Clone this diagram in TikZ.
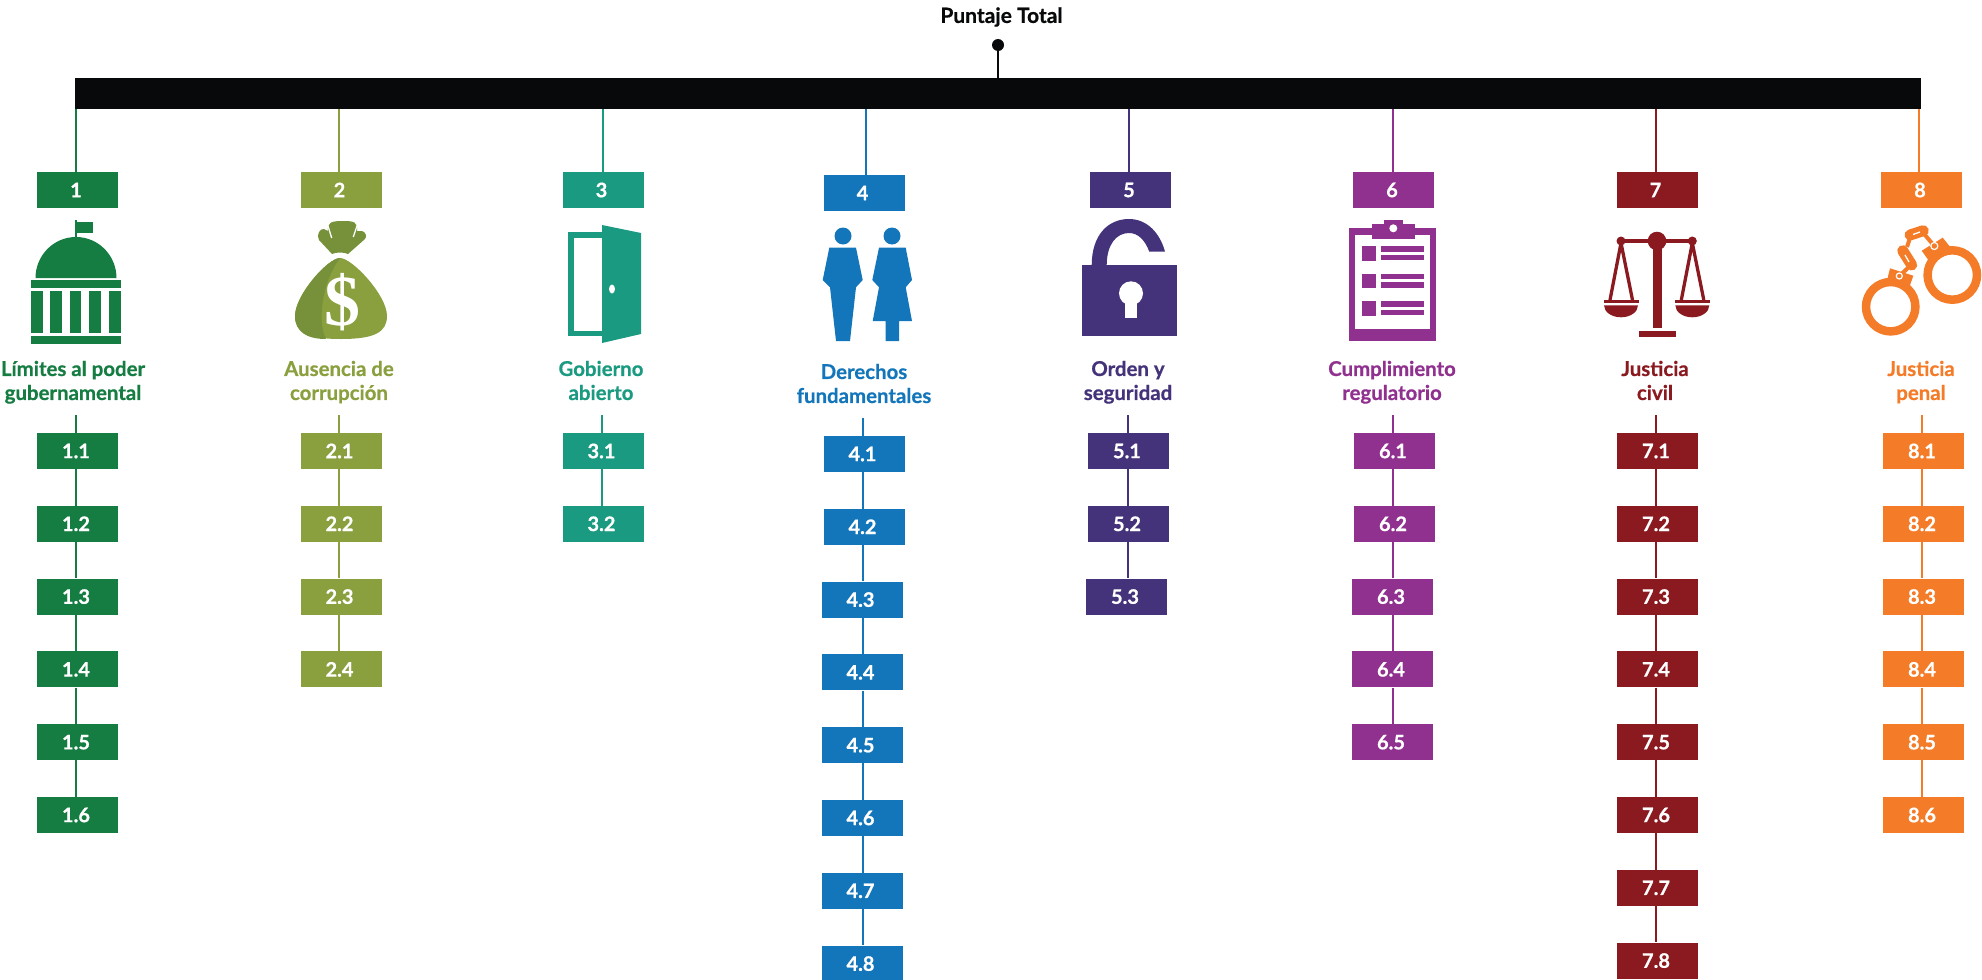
\documentclass[tikz,border=0pt]{standalone}
\usepackage{fontspec}
\setmainfont{Lato}[BoldFeatures={FakeBold=0.6}]
\newfontfamily\dollarfont{Liberation Serif}
\usetikzlibrary{calc}

\definecolor{col1}{HTML}{157C42}
\definecolor{col2}{HTML}{8A9F3E}
\definecolor{col3}{HTML}{1A9A80}
\definecolor{col4}{HTML}{1476BA}
\definecolor{col5}{HTML}{44337A}
\definecolor{col6}{HTML}{90308F}
\definecolor{col7}{HTML}{8A1A1F}
\definecolor{col8}{HTML}{F47B27}
\definecolor{bagdark}{HTML}{76913A}
\definecolor{barblack}{HTML}{08090B}

\tikzset{
  numbox/.style={minimum width=81,minimum height=36,inner sep=0,text=white,
    font=\fontsize{20}{20}\selectfont\bfseries,execute at begin node=\kern-3pt},
  stemline/.style={line width=2.2},
  axislabel/.style={align=center,inner sep=0,font=\fontsize{20.4}{24}\selectfont\bfseries,
    execute at begin node=\strut,execute at end node=\strut}
}

\begin{document}
\begin{tikzpicture}[x=1pt,y=-1pt]
  \useasboundingbox (0,0) rectangle (1982,980);

  % top
  \node[inner sep=0,text=barblack,font=\fontsize{21}{21}\selectfont\bfseries] (title) at (1001.5,17) {Puntaje Total};
  \node[circle,fill=barblack,minimum size=12,inner sep=0] (dot) at (998,45) {};
  \node[fill=barblack,minimum width=1846,minimum height=31,inner sep=0] (bar) at (998,93.5) {};
  \draw[barblack,line width=2.4] (dot) -- (bar);

  % columns
  \foreach \i/\tx/\lx/\cx/\sx/\cy/\sy/\n in {
    1/76/76/77.5/77.5/190/451/6,
    2/339/339/341/341/190/451/4,
    3/603/602/603/603/190/451/2,
    4/866/863/864/864/193/454/8,
    5/1129/1128/1130.5/1128.5/190/451/3,
    6/1393/1393/1393.5/1394.5/190/451/5,
    7/1656/1656/1657/1657.5/190/451/8,
    8/1919/1922/1921.5/1923.5/190/451/6} {
    \node[numbox,fill=col\i] (c\i) at (\cx,\cy) {\i};
    \coordinate (top\i) at (\tx,\cy);
    \coordinate (stem\i) at (\lx,\sy-36);
    \draw[stemline,col\i] (bar.south -| top\i) -- (c\i.north -| top\i);
    \foreach \k in {1,...,\n} {
      \pgfmathsetmacro\subx{\sx-2*and(\k>2,and(\i>3,\i<7))}
      \pgfmathsetmacro\suby{\sy+72.8*(\k-1)}
      \node[numbox,fill=col\i] (s\i-\k) at (\subx,\suby) {\i.\k};
    }
    \draw[stemline,col\i] (stem\i) -- (stem\i |- s\i-1.north);
    \foreach \k [remember=\k as \prev (initially 1)] in {2,...,\n} {
      \draw[stemline,col\i] (stem\i |- s\i-\prev.south) -- (stem\i |- s\i-\k.north);
    }
  }

  % labels
  \node[axislabel,text=col1] (l1) at (73,384) {Límites al poder\\gubernamental};
  \node[axislabel,text=col2] (l2) at (339,384) {Ausencia de\\corrupción};
  \node[axislabel,text=col3] (l3) at (601,384) {Gobierno\\abierto};
  \node[axislabel,text=col4] (l4) at (864,387) {Derechos\\fundamentales};
  \node[axislabel,text=col5] (l5) at (1128,384) {Orden y\\seguridad};
  \node[axislabel,text=col6] (l6) at (1392,384) {Cumplimiento\\regulatorio};
  \node[axislabel,text=col7] (l7) at (1655,384) {Justicia\\civil};
  \node[axislabel,text=col8] (l8) at (1921,384) {Justicia\\penal};

  % capitol
  \fill[col1] (74.7,220) rectangle (77.2,238);
  \fill[col1] (77,222) rectangle (92.5,233);
  \fill[col1] (35.5,278) arc[start angle=180,end angle=360,x radius=40.5,y radius=41] -- cycle;
  \fill[col1] (31,280) rectangle (121,288);
  \foreach \x in {31,50.3,69.7,89.2,109} {
    \fill[col1] (\x,291) rectangle (\x+11.5,333);
  }
  \fill[col1] (31,336) rectangle (121,344);

  % money bag
  \fill[col2] (340,258) .. controls (352,258) and (387,295) .. (387,316)
    .. controls (387,332) and (375,339) .. (341,339)
    .. controls (307,339) and (295,332) .. (295,316)
    .. controls (295,295) and (328,258) .. (340,258) -- cycle;
  \fill[bagdark] (340,258) .. controls (328,258) and (295,295) .. (295,316)
    .. controls (295,332) and (307,339) .. (326,339)
    .. controls (318,325) and (320,285) .. (340,258) -- cycle;
  \fill[bagdark] (332,254) -- (319,240) .. controls (316,235) and (320,228) .. (324,229)
    -- (328,231) .. controls (327,222) and (332,221) .. (343,221)
    .. controls (354,221) and (358,222) .. (357,231) -- (362,231)
    .. controls (366,232) and (367,237) .. (365,239) -- (348,254)
    .. controls (344,252) and (336,252) .. (332,254) -- cycle;
  \draw[white,line width=1.3] (327.7,225) -- (331.7,238) (357.3,225) -- (353.3,237);
  \node[inner sep=0,text=white,font=\fontsize{72}{72}\dollarfont\bfseries] (dollar) at (342,302) {\$};

  % door
  \fill[col3] (568,232) rectangle (604,336);
  \fill[white] (574,238) rectangle (604,331);
  \fill[col3] (602,225) -- (641,233) -- (641,334) -- (602,343) -- cycle;
  \fill[white] (612,289) ellipse[x radius=3,y radius=4.5];

  % people
  \fill[col4] (843,236) circle[radius=8.5];
  \fill[col4] (892,236) circle[radius=8.5];
  \fill[col4] (829.3,247.7) -- (856,247.7) -- (862.7,280) -- (856,287.3) -- (850,341)
    -- (836,341) -- (830,287.3) -- (822.7,280) -- cycle;
  \fill[col4] (879,247.7) -- (905.7,247.7) -- (912,280) -- (905.7,287.3) -- (912,321)
    -- (899,321) -- (899,341) -- (885.7,341) -- (885.7,321) -- (872.7,321)
    -- (879,287.3) -- (872.3,280) -- cycle;

  % lock
  \fill[col5] (1082,265.3) rectangle (1176.7,336);
  \fill[col5] (1091.7,265.3) .. controls (1091.7,235) and (1108,219) .. (1129,219)
    .. controls (1147,219) and (1160,233) .. (1165,251.7) -- (1149.3,251.7)
    .. controls (1145,240) and (1138,233) .. (1129,233)
    .. controls (1116,233) and (1106.7,245) .. (1106.7,265.3) -- cycle;
  \fill[white] (1131,293.3) circle[radius=12];
  \fill[white] (1124.7,297) rectangle (1137.3,317.7);

  % clipboard
  \fill[col6] (1348.7,228.3) rectangle (1436,340.7);
  \fill[white] (1354.7,235) rectangle (1430.3,329.3);
  \fill[col6] (1372,224) rectangle (1415,238.7);
  \fill[col6] (1384,220) rectangle (1403,226);
  \fill[white] (1393.3,228.3) circle[radius=4];
  \foreach \y in {246.3,273.7,301.3} {
    \fill[col6] (1361.7,\y) rectangle (1376.3,\y+14.2);
    \fill[col6] (1381.3,\y) rectangle (1424,\y+5.3);
    \fill[col6] (1381.3,\y+8.5) rectangle (1424,\y+14);
  }

  % scales
  \fill[col7] (1652.7,240) rectangle (1661.7,328.3);
  \fill[col7] (1657,241) circle[radius=9.3];
  \fill[col7] (1621,239.3) rectangle (1692.3,243.3);
  \fill[col7] (1638.7,331) rectangle (1675.7,336.7);
  \foreach \x in {1621,1692.3} {
    \fill[col7] (\x,241) circle[radius=4.5];
    \draw[col7,line width=3.3] (\x,243) -- (\x-11,300) (\x,243) -- (\x+11.5,300);
    \fill[col7] (\x-17.5,299.7) rectangle (\x+18,303.3);
    \fill[col7] (\x-17,305.3) arc[start angle=180,end angle=360,x radius=17,y radius=-12] -- cycle;
  }

  % handcuffs
  \draw[col8,line width=8.5] (1890.7,306.7) circle[radius=24.7];
  \draw[col8,line width=8.5] (1952.3,275) circle[radius=24.7];
  \fill[col8] (1890,268.3) -- (1913.3,275.7) -- (1909.3,287.3) -- (1886.7,281.7) -- cycle;
  \fill[col8] (1942.7,237.7) -- (1950,246.7) -- (1928.3,260) -- (1921.7,250.7) -- cycle;
  \draw[col8,line width=4] (1910,266) -- (1899.3,276) (1907,247) -- (1910,238) (1925,235) -- (1934.3,246);
  \draw[col8,line width=11,line cap=round] (1902.7,250.7) -- (1911.7,265);
  \draw[col8,line width=11,line cap=round] (1910,235) -- (1923.3,230.7);
  \draw[white,line width=1.3] (1905,255) -- (1909,262) (1913,234.5) -- (1920,232);
  \draw[white,line width=1.2] (1899.3,276) circle[radius=3] (1934.3,246) circle[radius=3.5];
\end{tikzpicture}
\end{document}
